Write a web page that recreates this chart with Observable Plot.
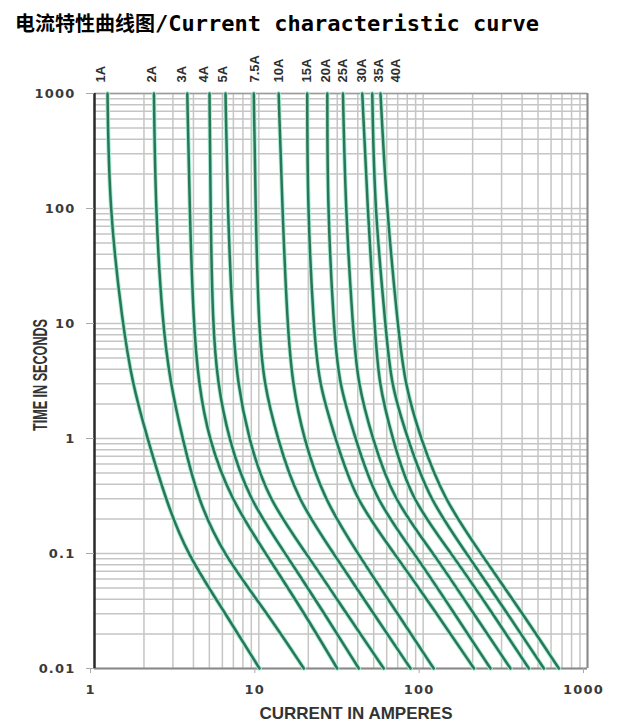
<!DOCTYPE html>
<html>
<head>
<meta charset="utf-8">
<script src="https://cdn.jsdelivr.net/npm/d3@7"></script>
<script src="https://cdn.jsdelivr.net/npm/@observablehq/plot@0.6"></script>
<style>
  body { margin: 0; background: #fff; }
  #title { height: 45px; line-height: 45px; padding-left: 15px; font-weight: bold; color: #000; white-space: nowrap; }
  #title .zh { font-family: "Noto Sans CJK SC", sans-serif; font-size: 20px; }
  #title .en { font-family: "DejaVu Sans Mono", monospace; font-size: 22px; }
</style>
</head>
<body>
<div id="title"><span class="zh">电流特性曲线图</span><span class="en">/Current characteristic curve</span></div>
<div id="chart"></div>
<script>
// Fuse ratings, one time-current curve each
const fuses = ["1A", "2A", "3A", "4A", "5A", "7.5A", "10A", "15A", "20A", "25A", "30A", "35A", "40A"];

// Clearing time (s) at which each curve's current is given
const times = [1000, 100, 10, 3, 1, 0.3, 0.1, 0.03, 0.01];

// Current (A) of each fuse curve at the times above
const amps1A   = [1.20, 1.23, 1.48, 1.70, 2.10, 2.70, 3.63, 6.27, 10.1];
const amps2A   = [2.30, 2.35, 2.59, 2.90, 3.43, 4.24, 6.01, 11.3, 18.8];
const amps3A   = [3.67, 3.79, 4.00, 4.30, 4.94, 6.72, 11.0, 19.0, 30.0];
const amps4A   = [5.01, 5.08, 5.23, 5.61, 6.54, 8.66, 14.5, 25.1, 40.6];
const amps5A   = [6.27, 6.45, 6.92, 7.42, 8.66, 11.3, 19.5, 34.2, 57.6];
const amps7_5A = [9.32, 9.55, 9.96, 10.7, 13.0, 17.0, 28.5, 49.9, 83.8];
const amps10A  = [13.2, 13.9, 14.9, 16.0, 18.7, 24.8, 39.9, 69.9, 116];
const amps15A  = [19.7, 19.8, 21.5, 23.1, 29.3, 38.2, 67.0, 121, 204];
const amps20A  = [26.1, 26.2, 28.5, 30.6, 38.8, 50.6, 88.7, 155, 257];
const amps25A  = [32.5, 33.7, 37.2, 39.9, 49.2, 65.1, 116, 203, 340];
const amps30A  = [42.6, 45.9, 50.6, 53.5, 65.1, 83.8, 149, 265, 440];
const amps35A  = [49.0, 50.6, 59.0, 63.3, 80.4, 108, 184, 326, 543];
const amps40A  = [55.0, 59.9, 69.9, 77.1, 96.4, 133, 224, 403, 670];

// Current at which each rating label sits above the chart
const labelAmps = [1.10, 2.22, 3.38, 4.61, 6.01, 9.41, 13.2, 19.5, 25.5, 32.3, 42.2, 53.5, 67.9];

// Axis ticks
const xTicks = [1, 10, 100, 1000];
const yTicks = [0.01, 0.1, 1, 10, 100, 1000];

const series = [amps1A, amps2A, amps3A, amps4A, amps5A, amps7_5A, amps10A,
                amps15A, amps20A, amps25A, amps30A, amps35A, amps40A];
const rows = fuses.flatMap((fuse, i) =>
  times.map((time, j) => ({fuse, amps: series[i][j], time})));
const labels = fuses.map((fuse, i) => ({fuse, amps: labelAmps[i], time: 1000}));

// Log-paper grid: 1..9 within every decade
const decadeGrid = (lo, hi) =>
  d3.range(lo, hi).flatMap(e => d3.range(1, 10).map(m => +(m * 10 ** e).toPrecision(3))).concat([10 ** hi]);
const xGrid = decadeGrid(0, 3);
const yGrid = decadeGrid(-2, 3);

const gridColor = "#c5c5c5";
const narrow = "'Liberation Sans Narrow', 'Arial Narrow', sans-serif";

const chart = Plot.plot({
  width: 622,
  height: 681,
  marginTop: 48,
  marginBottom: 58,
  marginLeft: 94,
  marginRight: 35,
  x: {type: "log", domain: [1, 1000]},
  y: {type: "log", domain: [0.01, 1000]},
  style: {fontFamily: "'DejaVu Sans', sans-serif", background: "#fff", overflow: "visible"},
  marks: [
    Plot.ruleX(xGrid, {stroke: gridColor, strokeWidth: 1.5}),
    Plot.ruleY(yGrid, {stroke: gridColor, strokeWidth: 1.5}),
    Plot.ruleY([1000], {stroke: "#9c9c9c", strokeWidth: 1.5}),
    Plot.ruleX([1000], {stroke: "#8a8a8a", strokeWidth: 2}),
    Plot.ruleY([0.01], {stroke: "#8a8a8a", strokeWidth: 2}),
    // curves: pale halo under a dark green core
    Plot.line(rows, {x: "amps", y: "time", z: "fuse", curve: "basis",
      stroke: "#a6ecd6", strokeWidth: 4.4}),
    Plot.line(rows, {x: "amps", y: "time", z: "fuse", curve: "basis",
      stroke: "#2a7657", strokeWidth: 2.5}),
    Plot.ruleX([1], {stroke: "#2b2b2b", strokeWidth: 2.5}),
    Plot.axisY(yTicks, {tickSize: 8, tickPadding: 11, tickFormat: d => String(d),
      fontSize: 13, fontWeight: "bold", fill: "#3a3a3a", stroke: "#aaa", label: null}),
    Plot.axisX(xTicks, {tickSize: 5, tickPadding: 11, tickFormat: d => String(d),
      fontSize: 13, fontWeight: "bold", fill: "#3a3a3a", stroke: "#aaa", label: null, dx: -4}),
    Plot.text(labels, {x: "amps", y: "time", text: "fuse", rotate: -90,
      textAnchor: "start", lineAnchor: "middle", dy: -11,
      fontFamily: narrow, fontWeight: "bold", fontSize: 13, fill: "#2e2e2e"}),
    Plot.text(["CURRENT IN AMPERES"], {frameAnchor: "bottom", dx: 15, dy: 45,
      lineAnchor: "middle", fontFamily: "'Liberation Sans', Arial, sans-serif",
      fontWeight: "bold", fontSize: 17, fill: "#333"}),
    Plot.text(["TIME IN SECONDS"], {frameAnchor: "left", dx: -54, dy: -6, rotate: -90,
      textAnchor: "middle", lineAnchor: "middle", fontFamily: narrow, fontWeight: "bold",
      fontSize: 15, fill: "#333", className: "ytitle"})
  ]
});

d3.select(chart).selectAll('g[aria-label="y-axis tick label"] text, g[aria-label="x-axis tick label"] text')
  .style("letter-spacing", "1.2px");

// tall, condensed lettering for the vertical axis title
d3.select(chart).selectAll(".ytitle text").each(function() {
  const t = d3.select(this);
  t.attr("transform", (t.attr("transform") || "") + " scale(0.84,1.3)");
});

document.getElementById("chart").append(chart);
</script>
</body>
</html>
